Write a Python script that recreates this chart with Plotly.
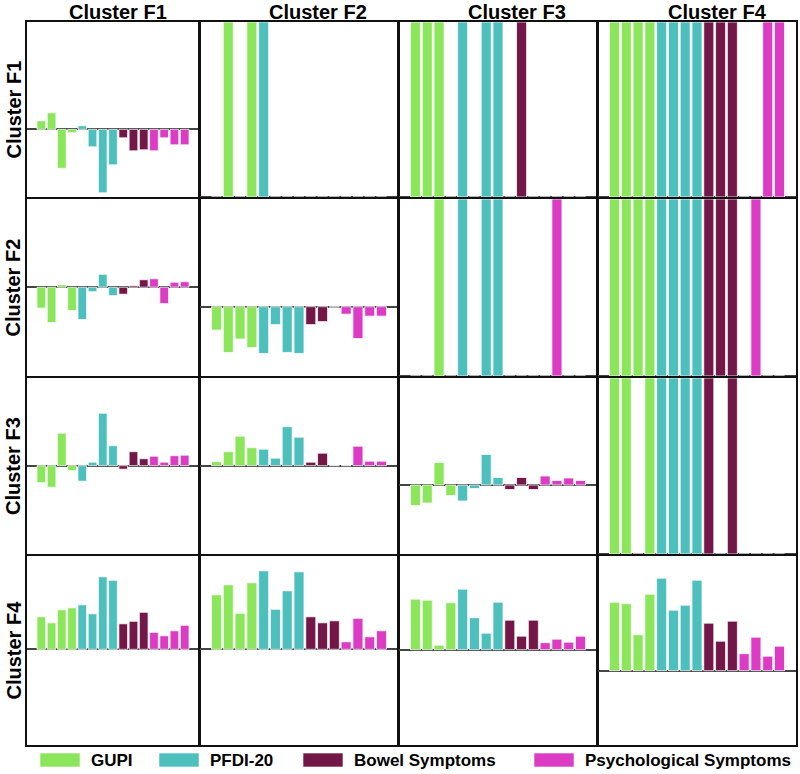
import plotly.graph_objects as go

# measures, grouped by questionnaire (15 items in total)
DOMAINS = ["GUPI", "PFDI-20", "Bowel Symptoms", "Psychological Symptoms"]
DOMAIN_SIZES = [4, 4, 3, 4]
COLORS = ["#8BE65B", "#4DBFBD", "#731748", "#DC3CC4"]
CLUSTERS = ["Cluster F1", "Cluster F2", "Cluster F3", "Cluster F4"]

# lower triangle + diagonal: differences per item (row cluster vs column cluster)
F1_F1 = [0.17, 0.33, -0.78, -0.07, 0.07, -0.35, -1.27, -0.71, -0.17, -0.43, -0.41, -0.43, -0.17, -0.31, -0.31]
F2_F1 = [-0.42, -0.71, 0.05, -0.47, -0.65, -0.09, 0.26, -0.17, -0.14, 0.03, 0.15, 0.17, -0.33, 0.10, 0.11]
F2_F2 = [-0.47, -0.92, -0.65, -0.82, -0.94, -0.36, -0.92, -0.94, -0.36, -0.30, -0.01, -0.15, -0.64, -0.19, -0.19]
F3_F1 = [-0.34, -0.43, 0.65, -0.10, -0.31, 0.07, 1.05, 0.40, -0.07, 0.28, 0.14, 0.19, 0.07, 0.20, 0.21]
F3_F2 = [0.08, 0.28, 0.59, 0.36, 0.33, 0.15, 0.78, 0.57, 0.07, 0.25, 0.0, 0.0, 0.39, 0.09, 0.09]
F3_F3 = [-0.41, -0.36, 0.45, -0.21, -0.32, -0.07, 0.61, 0.15, -0.09, 0.15, -0.09, 0.18, 0.09, 0.14, 0.09]
F4_F1 = [0.65, 0.53, 0.79, 0.83, 0.89, 0.71, 1.45, 1.38, 0.51, 0.56, 0.74, 0.34, 0.27, 0.37, 0.48]
F4_F2 = [1.09, 1.29, 0.72, 1.33, 1.57, 0.80, 1.17, 1.55, 0.65, 0.53, 0.57, 0.15, 0.62, 0.25, 0.37]
F4_F3 = [1.01, 0.99, 0.09, 0.94, 1.21, 0.64, 0.33, 0.95, 0.59, 0.27, 0.59, 0.14, 0.21, 0.15, 0.27]
F4_F4 = [1.37, 1.34, 0.72, 1.53, 1.85, 1.21, 1.31, 1.81, 0.95, 0.59, 0.99, 0.34, 0.67, 0.29, 0.49]

# upper triangle: indices of items with a significant difference
SIG_F1_F2 = [1, 3, 4]
SIG_F1_F3 = [0, 1, 2, 4, 6, 7, 9]
SIG_F1_F4 = [0, 1, 2, 3, 4, 5, 6, 7, 8, 9, 10, 13, 14]
SIG_F2_F3 = [2, 4, 6, 7, 12]
SIG_F2_F4 = [0, 1, 2, 3, 4, 5, 6, 7, 8, 9, 10, 12]
SIG_F3_F4 = [0, 1, 3, 4, 5, 6, 7, 8, 10]

diffs = {
    (0, 0): F1_F1, (1, 0): F2_F1, (1, 1): F2_F2,
    (2, 0): F3_F1, (2, 1): F3_F2, (2, 2): F3_F3,
    (3, 0): F4_F1, (3, 1): F4_F2, (3, 2): F4_F3, (3, 3): F4_F4,
}
sigs = {
    (0, 1): SIG_F1_F2, (0, 2): SIG_F1_F3, (0, 3): SIG_F1_F4,
    (1, 2): SIG_F2_F3, (1, 3): SIG_F2_F4, (2, 3): SIG_F3_F4,
}

# panel y ranges (each panel scaled on its own)
yranges = {
    (0, 0): [-1.354, 2.146], (1, 0): [-1.786, 1.774], (1, 1): [-1.394, 2.166],
    (2, 0): [-1.766, 1.754], (2, 1): [-1.766, 1.754], (2, 2): [-1.38, 2.14],
    (3, 0): [-1.914, 1.866], (3, 1): [-1.914, 1.866], (3, 2): [-1.906, 1.874],
    (3, 3): [-1.486, 2.294],
}

W, H = 800, 774
col_px = [(27, 199), (200, 398), (399, 597), (598, 796)]
row_px = [(22, 197), (199, 376), (378, 554), (556, 745)]
col_title_px = [118, 318, 517, 717]

item_domain = []
for d, n in enumerate(DOMAIN_SIZES):
    item_domain += [d] * n
n_items = len(item_domain)

fig = go.Figure()
layout = {}
for r in range(4):
    for c in range(4):
        k = r * 4 + c + 1
        xa = "xaxis" if k == 1 else f"xaxis{k}"
        ya = "yaxis" if k == 1 else f"yaxis{k}"
        xr = "x" if k == 1 else f"x{k}"
        yr = "y" if k == 1 else f"y{k}"
        if (r, c) in diffs:
            vals = diffs[(r, c)]
            yrange = yranges[(r, c)]
        else:
            vals = [1 if i in sigs[(r, c)] else 0 for i in range(n_items)]
            yrange = [0, 1]
        for d, name in enumerate(DOMAINS):
            idx = [i for i in range(n_items) if item_domain[i] == d]
            fig.add_trace(go.Bar(
                x=idx, y=[vals[i] for i in idx], name=name,
                marker=dict(color=COLORS[d], line=dict(color="rgba(255,255,255,0.75)", width=1)),
                xaxis=xr, yaxis=yr, showlegend=False,
            ))
        x0, x1 = col_px[c]
        y0, y1 = row_px[r]
        common = dict(showline=True, mirror=True, linecolor="#111", linewidth=2,
                      showgrid=False, showticklabels=False, ticks="")
        layout[xa] = dict(domain=[x0 / W, x1 / W], range=[-1.4, 15.4], zeroline=False,
                          anchor=yr, **common)
        layout[ya] = dict(domain=[1 - y1 / H, 1 - y0 / H], range=yrange, zeroline=True,
                          zerolinecolor="#444", zerolinewidth=1.5, anchor=xr, **common)

annotations = []
for c, name in enumerate(CLUSTERS):
    annotations.append(dict(text=f"<b>{name}</b>", x=col_title_px[c] / W, y=1 - 12 / H,
                            xref="paper", yref="paper", xanchor="center", yanchor="middle",
                            showarrow=False, font=dict(size=20, color="black")))
for r, name in enumerate(CLUSTERS):
    y0, y1 = row_px[r]
    annotations.append(dict(text=f"<b>{name}</b>", x=13 / W, y=1 - (y0 + y1) / 2 / H,
                            xref="paper", yref="paper", xanchor="center", yanchor="middle",
                            showarrow=False, textangle=-90, font=dict(size=20, color="black")))

# custom legend with wide colour boxes
legend_box_x = [40, 159, 303, 534]
shapes = []
for d, name in enumerate(DOMAINS):
    bx = legend_box_x[d]
    shapes.append(dict(type="rect", xref="paper", yref="paper",
                       x0=bx / W, x1=(bx + 40) / W, y0=1 - 767 / H, y1=1 - 753 / H,
                       fillcolor=COLORS[d], line=dict(color="rgba(255,255,255,0.6)", width=1)))
    annotations.append(dict(text=f"<b>{name}</b>", x=(bx + 49) / W, y=1 - 760 / H,
                            xref="paper", yref="paper", xanchor="left", yanchor="middle",
                            showarrow=False, font=dict(size=17, color="black")))

fig.update_layout(
    width=W, height=H,
    margin=dict(l=0, r=0, t=0, b=0),
    paper_bgcolor="white", plot_bgcolor="white",
    font=dict(family="Liberation Sans, Arial, sans-serif"),
    bargap=0.15, barmode="overlay",
    annotations=annotations, shapes=shapes,
    **layout,
)
fig.write_html("out.html", config={"displayModeBar": False},
               post_script="document.body.style.margin='0';")
